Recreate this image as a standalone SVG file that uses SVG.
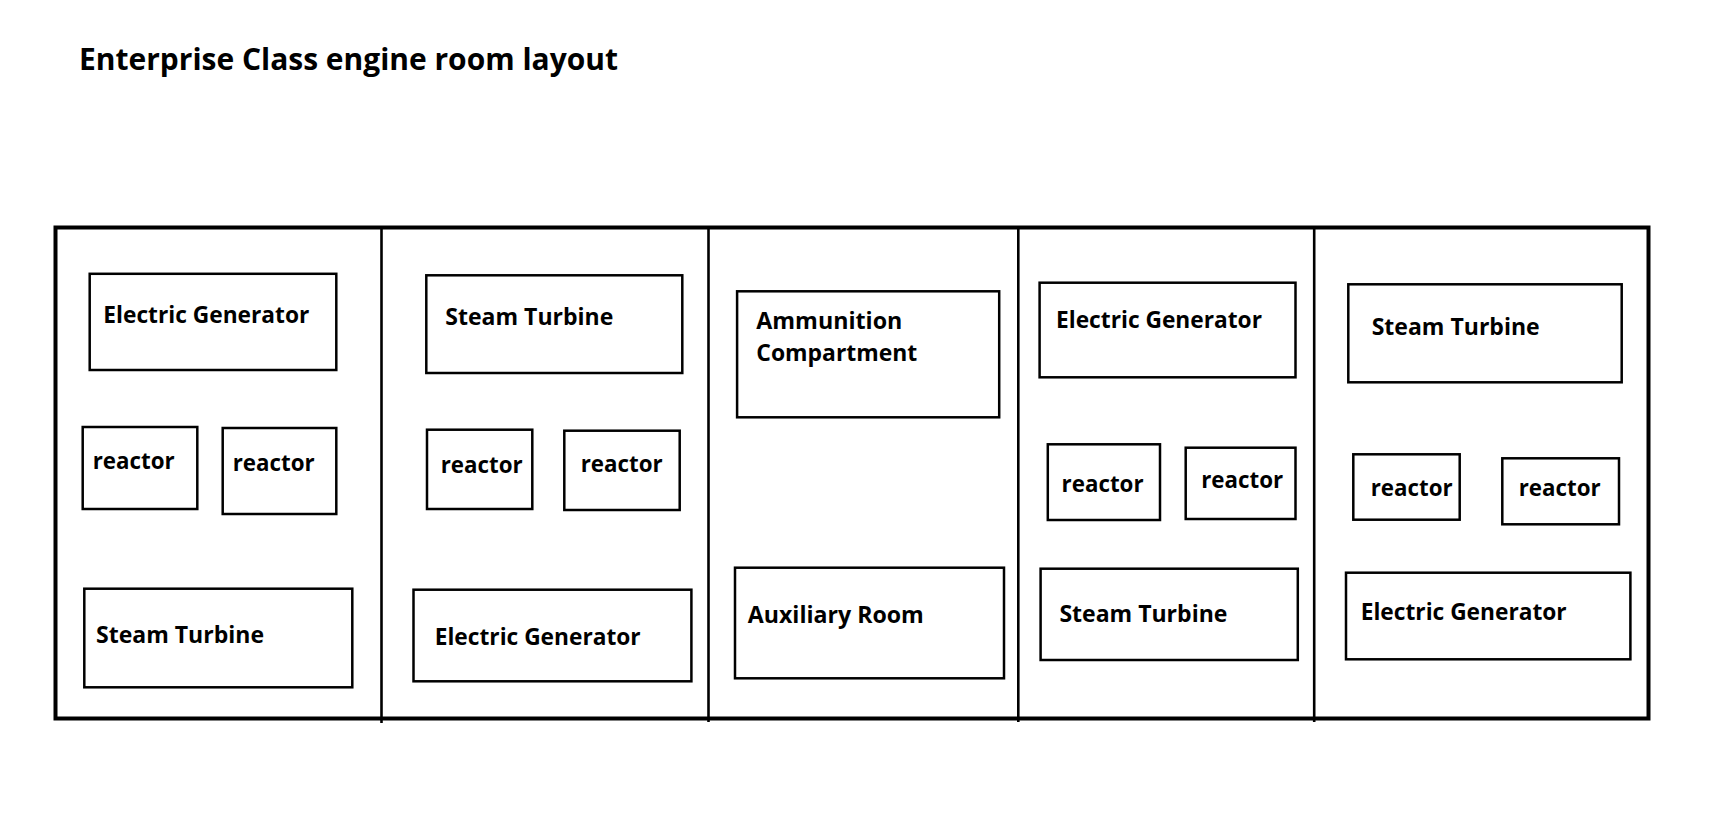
<svg xmlns="http://www.w3.org/2000/svg" width="1726" height="814" viewBox="0 0 1726 814">
<style>
.bg{fill:#fff}
.frame{fill:none;stroke:#000;stroke-width:4}
.div{stroke:#000;stroke-width:2.6}
.box{fill:#fff;stroke:#000;stroke-width:2.5}
.lbl{font-family:"Open Sans","Liberation Sans",sans-serif;font-weight:bold;font-size:23.5px;fill:#000}
.title{font-family:"Open Sans","Liberation Sans",sans-serif;font-weight:bold;font-size:31px;fill:#000}
</style>
<rect class="bg" x="0" y="0" width="1726" height="814"/>
<text class="title" x="79" y="69.5" textLength="539" lengthAdjust="spacingAndGlyphs">Enterprise Class engine room layout</text>
<g id="hull">
<rect class="frame" x="55.5" y="227.5" width="1593" height="491"/>
<line class="div" x1="381.5" y1="227" x2="381.5" y2="723"/>
<line class="div" x1="708.5" y1="227" x2="708.5" y2="722"/>
<line class="div" x1="1018.3" y1="227" x2="1018.3" y2="722"/>
<line class="div" x1="1314.2" y1="227" x2="1314.2" y2="722"/>
</g>
<g id="connectors"></g>
<g id="c1-gen"><rect class="box" x="89.7" y="273.8" width="246.6" height="96.2"/><text class="lbl" x="103.3" y="323.3" textLength="206" lengthAdjust="spacingAndGlyphs">Electric Generator</text></g>
<g id="c1-r1"><rect class="box" x="82.7" y="427" width="114.6" height="82"/><text class="lbl" x="92.7" y="469.3" textLength="82" lengthAdjust="spacingAndGlyphs">reactor</text></g>
<g id="c1-r2"><rect class="box" x="222.7" y="428" width="113.6" height="86"/><text class="lbl" x="232.7" y="470.7" textLength="82" lengthAdjust="spacingAndGlyphs">reactor</text></g>
<g id="c1-tur"><rect class="box" x="84.3" y="588.7" width="268" height="98.6"/><text class="lbl" x="96" y="642.7" textLength="168" lengthAdjust="spacingAndGlyphs">Steam Turbine</text></g>
<g id="c2-tur"><rect class="box" x="426.3" y="275.3" width="256" height="97.7"/><text class="lbl" x="445.3" y="325" textLength="168" lengthAdjust="spacingAndGlyphs">Steam Turbine</text></g>
<g id="c2-r1"><rect class="box" x="427" y="429.7" width="105.3" height="79.3"/><text class="lbl" x="440.7" y="472.7" textLength="82" lengthAdjust="spacingAndGlyphs">reactor</text></g>
<g id="c2-r2"><rect class="box" x="564.3" y="430.7" width="115.4" height="79.3"/><text class="lbl" x="580.7" y="471.7" textLength="82" lengthAdjust="spacingAndGlyphs">reactor</text></g>
<g id="c2-gen"><rect class="box" x="413.5" y="589.7" width="277.9" height="91.6"/><text class="lbl" x="434.7" y="645" textLength="206" lengthAdjust="spacingAndGlyphs">Electric Generator</text></g>
<g id="c3-ammo"><rect class="box" x="737.1" y="291.3" width="262.1" height="126"/><text class="lbl" x="756.3" y="329.3" textLength="146" lengthAdjust="spacingAndGlyphs">Ammunition</text><text class="lbl" x="756.3" y="361" textLength="161" lengthAdjust="spacingAndGlyphs">Compartment</text></g>
<g id="c3-aux"><rect class="box" x="735" y="567.7" width="269" height="110.6"/><text class="lbl" x="747.8" y="623.3" textLength="176" lengthAdjust="spacingAndGlyphs">Auxiliary Room</text></g>
<g id="c4-gen"><rect class="box" x="1039.6" y="282.7" width="255.9" height="94.6"/><text class="lbl" x="1056" y="327.7" textLength="206" lengthAdjust="spacingAndGlyphs">Electric Generator</text></g>
<g id="c4-r1"><rect class="box" x="1047.8" y="444.3" width="112.2" height="75.7"/><text class="lbl" x="1061.6" y="491.7" textLength="82" lengthAdjust="spacingAndGlyphs">reactor</text></g>
<g id="c4-r2"><rect class="box" x="1185.7" y="447.7" width="109.8" height="71.3"/><text class="lbl" x="1201.2" y="488.3" textLength="82" lengthAdjust="spacingAndGlyphs">reactor</text></g>
<g id="c4-tur"><rect class="box" x="1040.6" y="568.7" width="257.2" height="91.3"/><text class="lbl" x="1059.4" y="622.3" textLength="168" lengthAdjust="spacingAndGlyphs">Steam Turbine</text></g>
<g id="c5-tur"><rect class="box" x="1348.3" y="284.3" width="273.4" height="98"/><text class="lbl" x="1371.7" y="335" textLength="168" lengthAdjust="spacingAndGlyphs">Steam Turbine</text></g>
<g id="c5-r1"><rect class="box" x="1353.3" y="454.3" width="106.4" height="65.4"/><text class="lbl" x="1370.7" y="496" textLength="82" lengthAdjust="spacingAndGlyphs">reactor</text></g>
<g id="c5-r2"><rect class="box" x="1502.3" y="458.3" width="116.7" height="66"/><text class="lbl" x="1518.7" y="496" textLength="82" lengthAdjust="spacingAndGlyphs">reactor</text></g>
<g id="c5-gen"><rect class="box" x="1346" y="572.7" width="284.4" height="86.6"/><text class="lbl" x="1360.7" y="620" textLength="206" lengthAdjust="spacingAndGlyphs">Electric Generator</text></g>
</svg>
